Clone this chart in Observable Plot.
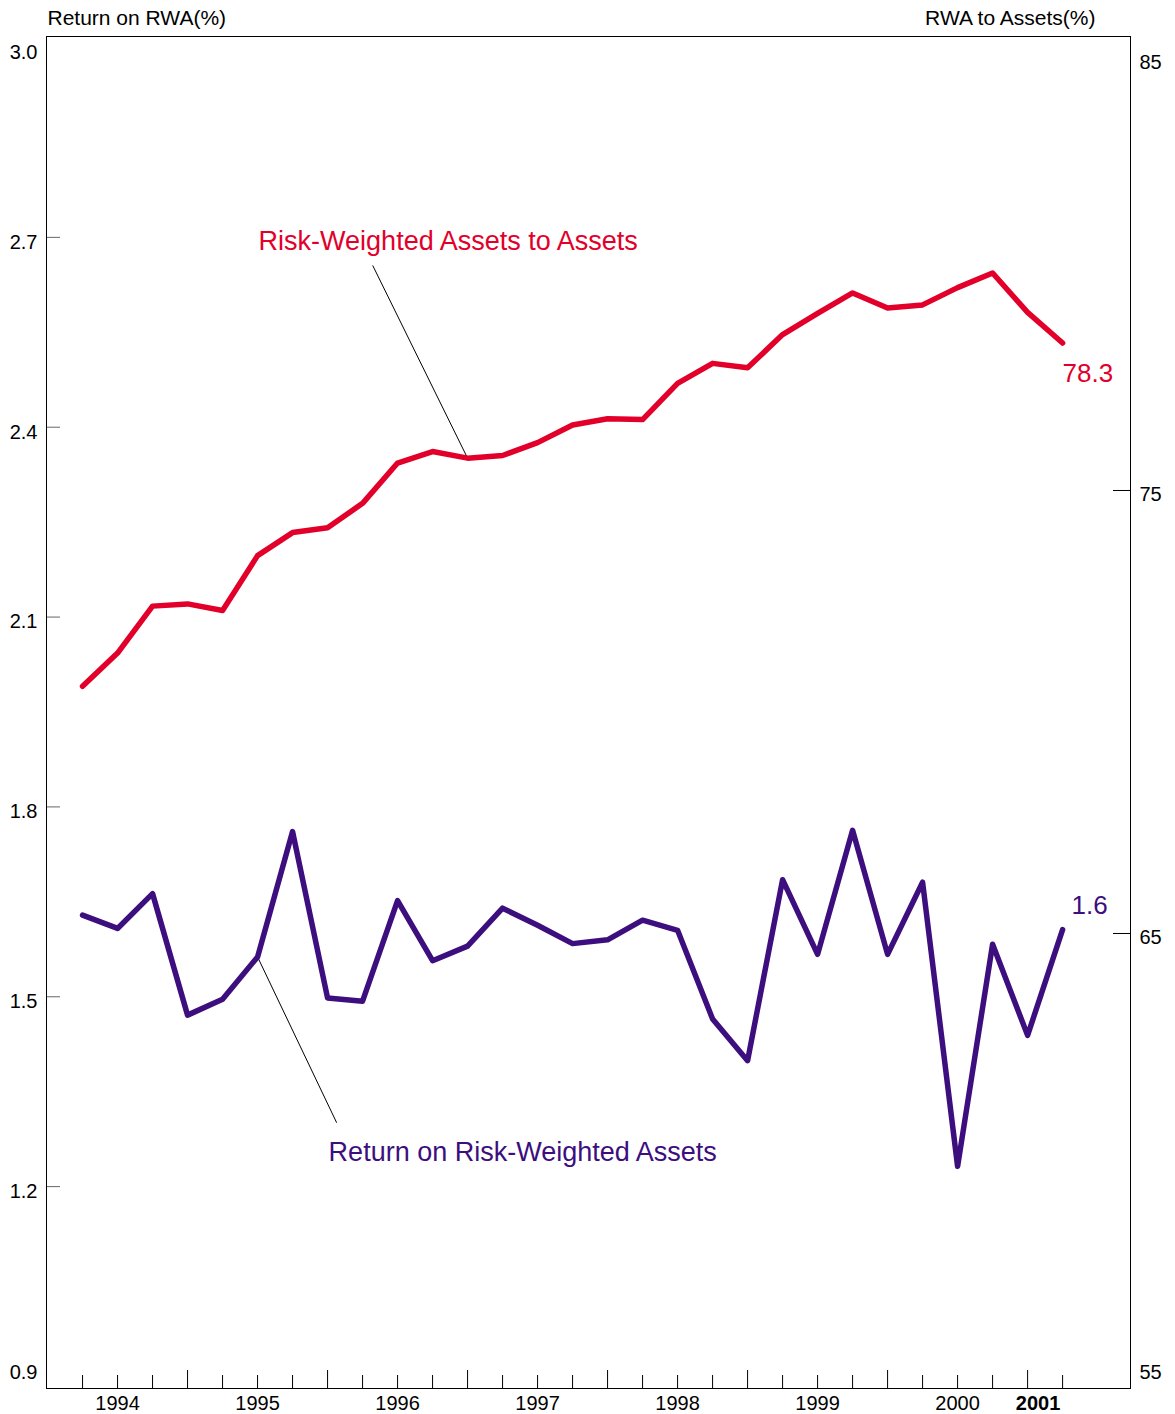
<!DOCTYPE html>
<html><head><meta charset="utf-8">
<script src="https://cdn.jsdelivr.net/npm/d3@7"></script>
<script src="https://cdn.jsdelivr.net/npm/@observablehq/plot@0.6"></script>
<style>body{margin:0;background:#fff;font-family:"Liberation Sans",Arial,sans-serif}</style>
</head><body><div id="chart"></div>
<script>
// Quarterly series (index 0..28)
const rwaToAssets = [70.58, 71.33, 72.39, 72.44, 72.29, 73.53, 74.05, 74.16, 74.71, 75.62,
  75.88, 75.73, 75.79, 76.08, 76.48, 76.62, 76.60, 77.42, 77.87, 77.77,
  78.52, 79.00, 79.46, 79.12, 79.19, 79.58, 79.91, 79.02, 78.33];
const returnOnRwa = [1.629, 1.608, 1.663, 1.471, 1.496, 1.563, 1.761, 1.498, 1.493, 1.652,
  1.557, 1.580, 1.640, 1.613, 1.584, 1.590, 1.621, 1.605, 1.465, 1.399,
  1.685, 1.567, 1.763, 1.567, 1.681, 1.232, 1.583, 1.439, 1.606];
const leftTicks = [3.0, 2.7, 2.4, 2.1, 1.8, 1.5, 1.2, 0.9];
const rightTicks = [85, 75, 65, 55];
const yearLabels = ["1994", "1995", "1996", "1997", "1998", "1999", "2000"];
const yearLabelIndex = [1, 5, 9, 13, 17, 21, 25];
const lastYearLabel = ["2001"];
const lastYearIndex = [27.3];
const yearEndIndex = [3, 7, 11, 15, 19, 23, 27];
const leftTitle = "Return on RWA(%)";
const rightTitle = "RWA to Assets(%)";
const rwaName = "Risk-Weighted Assets to Assets";
const retName = "Return on Risk-Weighted Assets";
// annotation anchors (index, value)
const rwaLeader = {i: 11, x2: 8.29, v2: 80.08, tx: 5.03, tv: 80.62};
const retLeader = {i: 5, x2: 7.26, v2: 1.301, tx: 7.03, tv: 1.254};

const red = "#e2002b";
const purple = "#3d0e7e";
const n = rwaToAssets.length;
const idx = d3.range(n);
const toLeft = v => 0.9 + (v - 55) * 0.07;

const W = 1175, H = 1414, mT = 36, mB = 26, mL = 46, mR = 45;
const fw = W - mL - mR, fh = H - mT - mB;
const fs = 20;

const chart = Plot.plot({
  width: W, height: H,
  marginTop: mT, marginBottom: mB, marginLeft: mL, marginRight: mR,
  style: {fontFamily: '"Liberation Sans", Arial, sans-serif', background: "#fff", overflow: "visible"},
  x: {domain: [-1.03, 29.94], axis: null},
  y: {domain: [0.881, 3.0174], axis: null},
  marks: [
    // left ticks (inside)
    Plot.ruleY(leftTicks.slice(1, -1), {y: d => d, stroke: "#666", insetRight: fw - 14}),
    // right ticks (inside)
    Plot.ruleY(rightTicks.slice(1, -1), {y: d => toLeft(d), stroke: "#000", insetLeft: fw - 17}),
    // bottom ticks
    Plot.ruleX(idx.filter(i => !yearEndIndex.includes(i)), {x: d => d, stroke: "#000", insetTop: fh - 13}),
    Plot.ruleX(yearEndIndex, {x: d => d, stroke: "#000", insetTop: fh - 18}),
    Plot.frame({stroke: "#000"}),
    // left labels
    Plot.text(leftTicks.slice(0, -1), {y: d => d, text: d => d.toFixed(1), frameAnchor: "left", textAnchor: "end", lineAnchor: "middle", dx: -9, dy: 5, fontSize: fs, fill: "#000"}),
    Plot.text(leftTicks.slice(-1), {y: d => d, text: d => d.toFixed(1), frameAnchor: "left", textAnchor: "end", lineAnchor: "middle", dx: -9, dy: -4, fontSize: fs, fill: "#000"}),
    // right labels
    Plot.text(rightTicks.slice(0, 1), {y: d => toLeft(d), text: d => String(d), frameAnchor: "right", textAnchor: "start", lineAnchor: "middle", dx: 9, dy: 15, fontSize: fs, fill: "#000"}),
    Plot.text(rightTicks.slice(1, 3), {y: d => toLeft(d), text: d => String(d), frameAnchor: "right", textAnchor: "start", lineAnchor: "middle", dx: 9, dy: 4, fontSize: fs, fill: "#000"}),
    Plot.text(rightTicks.slice(3), {y: d => toLeft(d), text: d => String(d), frameAnchor: "right", textAnchor: "start", lineAnchor: "middle", dx: 9, dy: -4, fontSize: fs, fill: "#000"}),
    // year labels
    Plot.text(yearLabels, {x: (d, i) => yearLabelIndex[i], text: d => d, frameAnchor: "bottom", lineAnchor: "middle", dy: 15, fontSize: fs, fill: "#000"}),
    Plot.text(lastYearLabel, {x: (d, i) => lastYearIndex[i], text: d => d, frameAnchor: "bottom", lineAnchor: "middle", dy: 15, fontSize: fs, fontWeight: "bold", fill: "#000"}),
    // titles
    Plot.text([leftTitle], {frameAnchor: "top-left", text: d => d, textAnchor: "start", lineAnchor: "middle", dx: 1, dy: -18, fontSize: 21, fill: "#000"}),
    Plot.text([rightTitle], {frameAnchor: "top-right", text: d => d, textAnchor: "end", lineAnchor: "middle", dx: -35, dy: -18, fontSize: 21, fill: "#000"}),
    // leader lines
    Plot.link([rwaLeader], {x1: d => d.i, y1: d => toLeft(rwaToAssets[d.i]), x2: d => d.x2, y2: d => toLeft(d.v2), stroke: "#000", strokeWidth: 1}),
    Plot.link([retLeader], {x1: d => d.i, y1: d => returnOnRwa[d.i], x2: d => d.x2, y2: d => d.v2, stroke: "#000", strokeWidth: 1}),
    // series lines
    Plot.line(rwaToAssets, {x: (d, i) => i, y: d => toLeft(d), stroke: red, strokeWidth: 5.5, strokeLinejoin: "round", strokeLinecap: "round"}),
    Plot.line(returnOnRwa, {x: (d, i) => i, y: d => d, stroke: purple, strokeWidth: 5.5, strokeLinejoin: "round", strokeLinecap: "round"}),
    // series names
    Plot.text([rwaLeader], {x: d => d.tx, y: d => toLeft(d.tv), text: () => rwaName, textAnchor: "start", fontSize: 27, fill: red}),
    Plot.text([retLeader], {x: d => d.tx, y: d => d.tv, text: () => retName, textAnchor: "start", fontSize: 27, fill: purple}),
    // end values
    Plot.text(rwaToAssets.slice(-1), {x: () => n - 1, y: d => toLeft(d), text: d => d.toFixed(1), textAnchor: "start", dx: 0, dy: 31, fontSize: 26, fill: red}),
    Plot.text(returnOnRwa.slice(-1), {x: () => n - 1, y: d => d, text: d => d.toFixed(1), textAnchor: "start", dx: 9, dy: -24, fontSize: 26, fill: purple})
  ]
});
document.getElementById("chart").appendChild(chart);
</script>
</body></html>
